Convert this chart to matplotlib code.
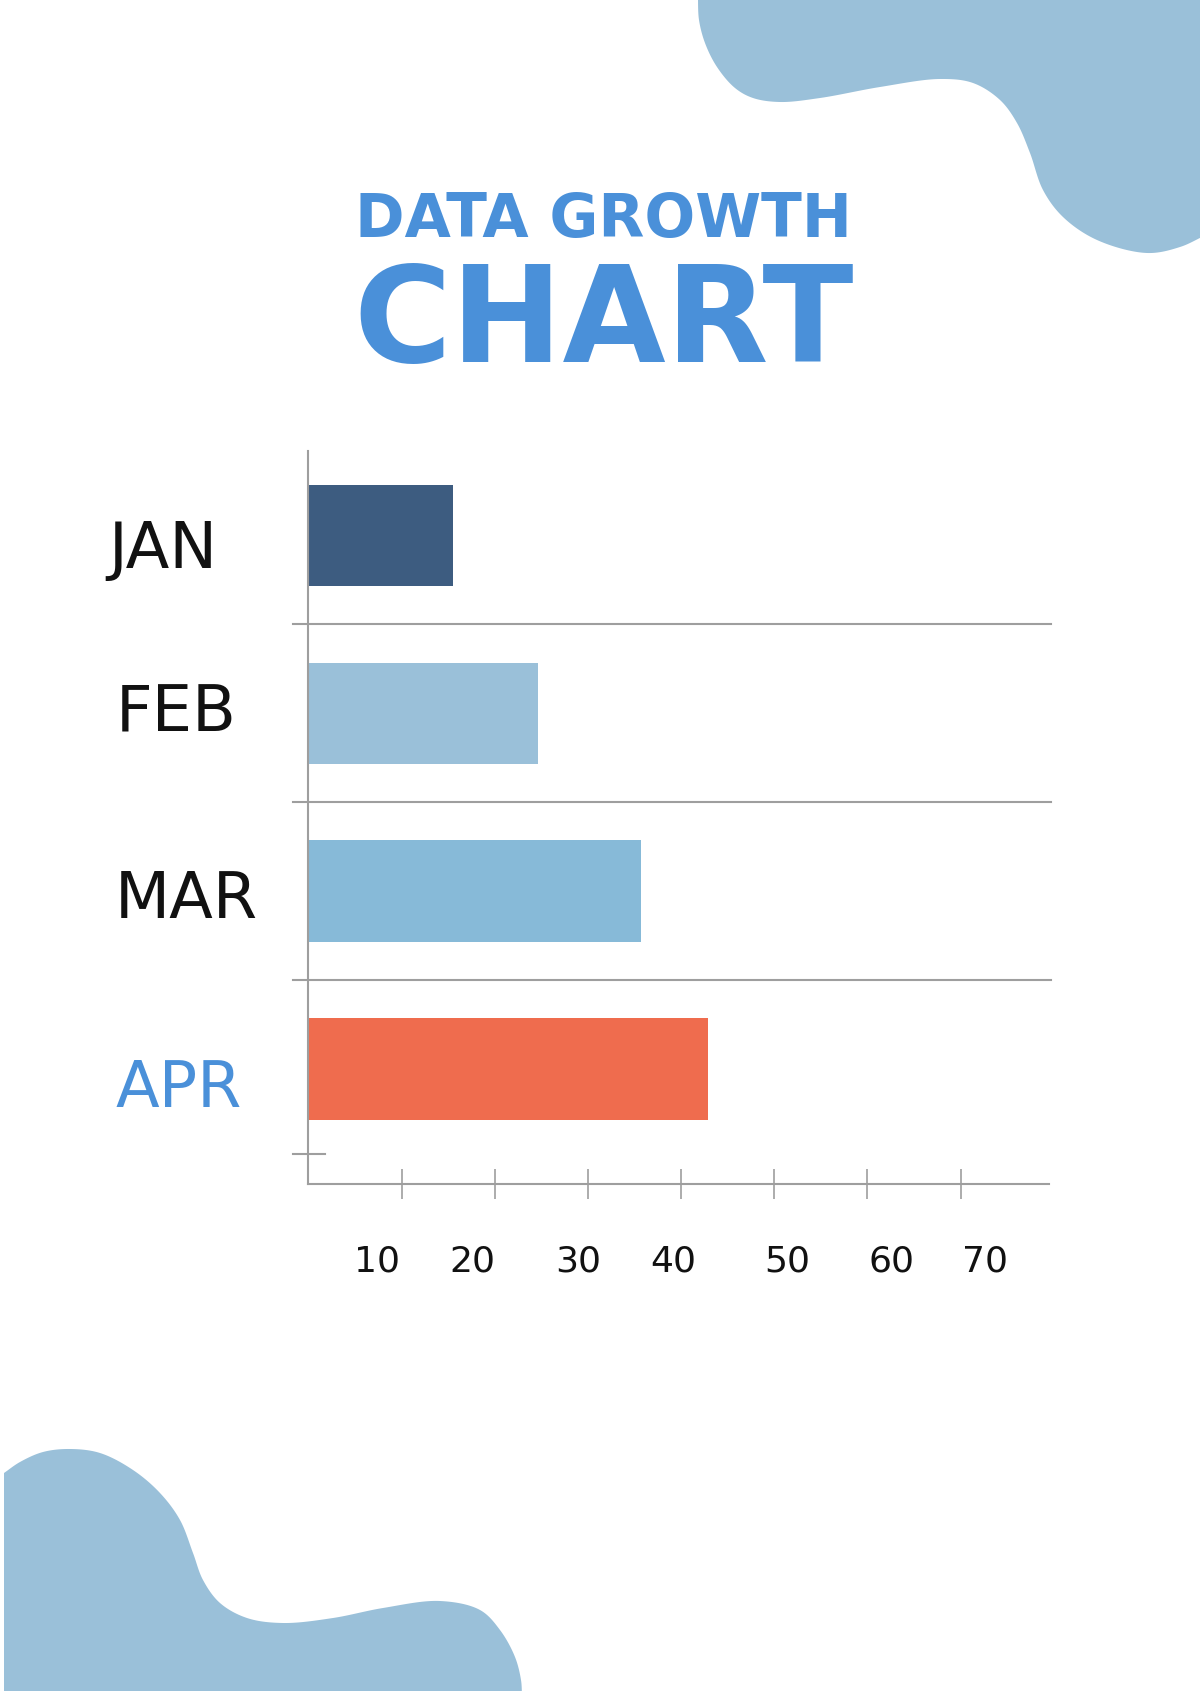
import numpy as np
import matplotlib
matplotlib.use("Agg")
import matplotlib.pyplot as plt
from matplotlib.patches import Polygon
import matplotlib.transforms as mtransforms

# ---------------- data ----------------
months = ["JAN", "FEB", "MAR", "APR"]
values = [15.5, 24.6, 35.7, 42.9]
bar_colors = ["#3D5C80", "#9AC0D9", "#87BAD8", "#EF6C4E"]
label_colors = ["#111111", "#111111", "#111111", "#4A90D9"]
xticks = [10, 20, 30, 40, 50, 60, 70]
xtick_labels = ["10", "20", "30", "40", "50", "60", "70"]
title_line1 = "DATA GROWTH"
title_line2 = "CHART"

BLUE = "#4A90D9"
BLOB = "#9AC0D9"
GRAY = "#9E9E9E"

W, H = 1200, 1691
fig = plt.figure(figsize=(W / 100, H / 100), dpi=100)
fig.patch.set_facecolor("white")

# ---------------- background decoration (pixel coords) ----------------
bg = fig.add_axes([0, 0, 1, 1])
bg.set_xlim(0, W)
bg.set_ylim(H, 0)
bg.axis("off")


def centripetal_curve(pts, n_seg=24, alpha=0.5):
    """Smooth decorative outline through the given shape points."""
    P = np.asarray(pts, float)
    P = np.vstack([2 * P[0] - P[1], P, 2 * P[-1] - P[-2]])
    out = []
    for i in range(1, len(P) - 2):
        p0, p1, p2, p3 = P[i - 1], P[i], P[i + 1], P[i + 2]
        t0 = 0.0
        t1 = t0 + np.linalg.norm(p1 - p0) ** alpha
        t2 = t1 + np.linalg.norm(p2 - p1) ** alpha
        t3 = t2 + np.linalg.norm(p3 - p2) ** alpha
        ts = np.linspace(t1, t2, n_seg, endpoint=False)[:, None]
        a1 = (t1 - ts) / (t1 - t0) * p0 + (ts - t0) / (t1 - t0) * p1
        a2 = (t2 - ts) / (t2 - t1) * p1 + (ts - t1) / (t2 - t1) * p2
        a3 = (t3 - ts) / (t3 - t2) * p2 + (ts - t2) / (t3 - t2) * p3
        b1 = (t2 - ts) / (t2 - t0) * a1 + (ts - t0) / (t2 - t0) * a2
        b2 = (t3 - ts) / (t3 - t1) * a2 + (ts - t1) / (t3 - t1) * a3
        c = (t2 - ts) / (t2 - t1) * b1 + (ts - t1) / (t2 - t1) * b2
        out.append(c)
    out.append(P[-2][None, :])
    return np.vstack(out)


tr_shape = [(698, -4), (698, 0), (699, 20), (705, 43), (717, 67), (735, 88),
            (753, 98), (780, 102), (820, 98), (880, 87), (940, 79), (973, 83),
            (1000, 100), (1017, 123), (1030, 153), (1043, 190), (1063, 217),
            (1097, 240), (1147, 253), (1180, 247), (1204, 236)]
tr = centripetal_curve(tr_shape)
tr = np.vstack([tr, [(1204, -4)]])
bg.add_patch(Polygon(tr, closed=True, facecolor=BLOB, edgecolor="none"))

bl_shape = [(4, 1473), (20, 1462), (43, 1452), (70, 1449), (100, 1453),
            (133, 1470), (160, 1493), (180, 1520), (193, 1553), (203, 1580),
            (220, 1603), (247, 1618), (283, 1623), (333, 1618), (383, 1608),
            (440, 1601), (480, 1610), (500, 1630), (515, 1657), (521, 1680),
            (522, 1695)]
bl = centripetal_curve(bl_shape)
bl = np.vstack([bl, [(4, 1695)]])
bg.add_patch(Polygon(bl, closed=True, facecolor=BLOB, edgecolor="none"))

# ---------------- title ----------------
fig.text(0.503, 1 - 237 / H, title_line1, ha="center", va="baseline",
         fontsize=43, fontweight="bold", color=BLUE, family="DejaVu Sans")
fig.text(0.503, 1 - 362 / H, title_line2, ha="center", va="baseline",
         fontsize=96, fontweight="bold", color=BLUE, family="DejaVu Sans")

# ---------------- chart ----------------
ax = fig.add_axes([308.4 / W, 1 - 1183.9 / H, (1049 - 308.4) / W,
                   (1183.9 - 450.7) / H])
ax.set_facecolor("none")
ypos = np.arange(len(months))
ax.barh(ypos, values, height=0.57, color=bar_colors, zorder=2)
ax.set_xlim(0, 79.5)
ax.set_ylim(3.646, -0.476)

for s in ["top", "right"]:
    ax.spines[s].set_visible(False)
for s in ["left", "bottom"]:
    ax.spines[s].set_color(GRAY)
    ax.spines[s].set_linewidth(1.5)
    ax.spines[s].set_zorder(3)

# separators between categories
for yv in ypos[:-1] + 0.5:
    ax.plot([-1.6, 79.7], [yv, yv], color=GRAY, lw=1.5, clip_on=False,
            zorder=1)
# small tick near bottom of y-axis
ax.plot([-1.6, 1.8], [3.476, 3.476], color=GRAY, lw=1.5, clip_on=False,
        zorder=1)

ax.set_yticks([])
ax.set_xticks(xticks)
ax.set_xticklabels([])
ax.tick_params(axis="x", direction="inout", length=22, width=1.2,
               color=GRAY)

# x tick labels (slightly offset as in the design)
x_off_px = [-25, -22, -10, -8, 13, 24, 24]
for v, lab, dx in zip(xticks, xtick_labels, x_off_px):
    t = mtransforms.blended_transform_factory(ax.transData, fig.transFigure)
    t = t + mtransforms.ScaledTranslation(dx / 100, 0, fig.dpi_scale_trans)
    ax.text(v, 1 - 1261 / H, lab, transform=t, ha="center", va="center",
            fontsize=26, color="#111111", family="DejaVu Sans")

# month labels
lab_x_px = [108, 116, 115, 115]
lab_dy_px = [15, 0, 9, 20]
for i, (m, c) in enumerate(zip(months, label_colors)):
    t = mtransforms.blended_transform_factory(fig.transFigure, ax.transData)
    t = t + mtransforms.ScaledTranslation(0, -lab_dy_px[i] / 100,
                                          fig.dpi_scale_trans)
    ax.text(lab_x_px[i] / W, ypos[i], m, transform=t, ha="left",
            va="center", fontsize=46, color=c, family="DejaVu Sans",
            clip_on=False)

fig.savefig("out.png", dpi=100, facecolor="white")
